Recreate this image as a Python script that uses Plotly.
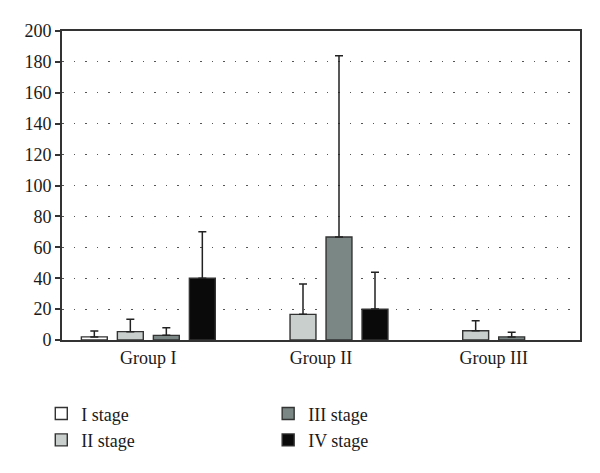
import plotly.graph_objects as go

groups = ["Group I", "Group II", "Group III"]
stages = ["I stage", "II stage", "III stage", "IV stage"]
values = {
    "I stage":   [2, None, None],
    "II stage":  [5.4, 16.6, 6],
    "III stage": [3, 66.7, 2],
    "IV stage":  [40, 20, None],
}
upper = {
    "I stage":   [5.8, None, None],
    "II stage":  [13.4, 36.2, 12.5],
    "III stage": [8, 184, 5],
    "IV stage":  [70, 43.8, None],
}
colors = {
    "I stage": "#ffffff",
    "II stage": "#c8cfcc",
    "III stage": "#7a8785",
    "IV stage": "#0a0a0a",
}
legend_of = {"I stage": "legend", "II stage": "legend", "III stage": "legend2", "IV stage": "legend2"}

fig = go.Figure()
for s in stages:
    v = values[s]
    err = [(u - b) if (u is not None and b is not None) else 0 for u, b in zip(upper[s], v)]
    fig.add_trace(go.Bar(
        name=s, x=groups, y=v,
        marker=dict(color=colors[s], line=dict(color="#333333", width=1.4)),
        error_y=dict(type="data", symmetric=False, array=err, arrayminus=[0] * len(v),
                     color="#222222", thickness=1.5, width=4),
        legend=legend_of[s],
    ))

font = dict(family="Liberation Serif, serif", size=18, color="#1a1a1a")
fig.update_layout(
    width=592, height=465,
    margin=dict(l=54, r=20, t=23, b=133),
    paper_bgcolor="white", plot_bgcolor="white",
    barmode="group", bargap=0.166, bargroupgap=0.28,
    font=font,
    legend=dict(x=-0.04, y=-0.179, xanchor="left", yanchor="top", orientation="v",
                font=font, bgcolor="rgba(0,0,0,0)", tracegroupgap=0),
    legend2=dict(x=0.398, y=-0.179, xanchor="left", yanchor="top", orientation="v",
                 font=font, bgcolor="rgba(0,0,0,0)", tracegroupgap=0),
    showlegend=True,
)
fig.update_yaxes(range=[0, 200], dtick=20, showline=True, linecolor="#333333", linewidth=2,
                 mirror=True, ticks="outside", ticklen=5, tickcolor="#333333", tickwidth=1.5,
                 showgrid=True, gridcolor="#555555", gridwidth=1, griddash="1.5px,10px",
                 zeroline=False, tickfont=font)
fig.update_xaxes(showline=True, linecolor="#333333", linewidth=2, mirror=True,
                 ticks="", showgrid=False, tickfont=font)

fig.write_html("out.html")
